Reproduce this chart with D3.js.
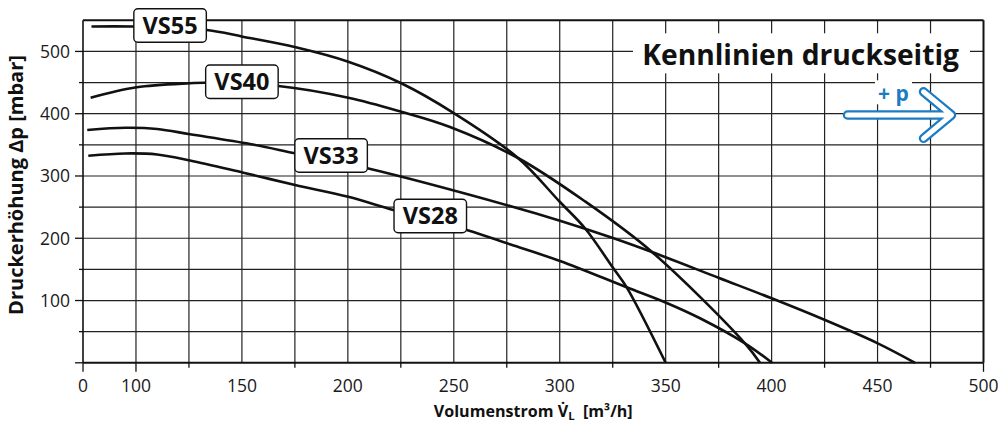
<!DOCTYPE html>
<html>
<head>
<meta charset="utf-8">
<script src="https://cdn.jsdelivr.net/npm/d3@7"></script>
<style>
  html, body { margin: 0; padding: 0; background: #fff; }
  svg { display: block; }
</style>
</head>
<body>
<div id="chart"></div>
<script>
// Kennlinien – Volumenstrom [m³/h] vs Druckerhöhung [mbar]
const vs55Flow = [79, 98.6, 133.5, 150.4, 175.4, 200.2, 225.2, 250, 280.3, 300.1, 311.9, 325.3, 331.6, 350];
const vs55Pres = [540, 540, 534.4, 523.7, 506.7, 483.5, 448.9, 401, 328.9, 258.2, 216, 151.8, 121.2, 0];

const vs40Flow = [78.6, 100.3, 125.5, 132.6, 167.2, 200.2, 225.2, 248.2, 280.3, 311, 343.4, 387.4, 394.5];
const vs40Pres = [425.7, 442.4, 448.9, 449.8, 444.5, 425.7, 403.2, 378.7, 328.9, 261.4, 178.4, 31.3, 0];

const vs33Flow = [77, 95, 110, 125.5, 153.8, 175.1, 209.2, 276.5, 300.1, 325.1, 343.5, 375.2, 400, 425.2, 450.1, 467.7];
const vs33Pres = [373.9, 377.4, 375.5, 367, 351.4, 336.4, 312.3, 251.8, 228.2, 200.4, 177.9, 136.2, 103.6, 68.7, 31.3, 0];

const vs28Flow = [77.5, 95, 110, 125.5, 150.7, 175.1, 200.2, 221.5, 256.1, 276.5, 300.1, 331.6, 350.2, 366.2, 387.4, 400.2];
const vs28Pres = [332.6, 336.2, 334.5, 325, 305.3, 285.5, 266.7, 245.4, 213.3, 190.3, 163.5, 121.2, 96.5, 71.5, 31.3, 0];

const seriesNames = ["VS55", "VS40", "VS33", "VS28"];
// where each name box sits (data units)
const labelFlow = [116.1, 150, 192.1, 238.9];
const labelPres = [541.7, 451.4, 332.9, 235.7];

// x axis starts at 75 but the first tick is printed as "0"
const xTickValues = [75, 100, 150, 200, 250, 300, 350, 400, 450, 500];
const xTickLabels = ["0", "100", "150", "200", "250", "300", "350", "400", "450", "500"];
const yTickValues = [100, 200, 300, 400, 500];

const W = 998, H = 421;
const margin = { top: 20.3, right: 14.5, bottom: 58.2, left: 83 };
const width = W - margin.left - margin.right;
const height = H - margin.top - margin.bottom;

const FONT = "'Open Sans', 'Noto Sans', sans-serif";

const svg = d3.select("#chart").append("svg")
  .attr("width", W).attr("height", H)
  .style("font-family", FONT);

svg.append("rect").attr("width", W).attr("height", H).attr("fill", "#fff");

const g = svg.append("g").attr("transform", `translate(${margin.left},${margin.top})`);

const x = d3.scaleLinear().domain([75, 500]).range([0, width]);
const y = d3.scaleLinear().domain([0, 550]).range([height, 0]);

// grid
const vGrid = d3.range(100, 500, 25);
g.append("g").selectAll("line").data(vGrid).enter().append("line")
  .attr("x1", d => x(d)).attr("x2", d => x(d))
  .attr("y1", 0).attr("y2", height)
  .attr("stroke", "#222").attr("stroke-width", 1.2);

const hGrid = d3.range(50, 550, 50);
g.append("g").selectAll("line").data(hGrid).enter().append("line")
  .attr("x1", 0).attr("x2", width)
  .attr("y1", d => y(d)).attr("y2", d => y(d))
  .attr("stroke", "#222").attr("stroke-width", 1.2);

// ticks outside the frame
const xMinor = d3.range(125, 500, 50);
g.append("g").selectAll("line").data([75, 100, 500]).enter().append("line")
  .attr("x1", d => x(d)).attr("x2", d => x(d))
  .attr("y1", height).attr("y2", height + 9)
  .attr("stroke", "#111").attr("stroke-width", 1.3);
g.append("g").selectAll("line").data(xMinor).enter().append("line")
  .attr("x1", d => x(d)).attr("x2", d => x(d))
  .attr("y1", height).attr("y2", height + 5)
  .attr("stroke", "#111").attr("stroke-width", 1.3);

g.append("g").selectAll("line").data([0].concat(yTickValues)).enter().append("line")
  .attr("x1", -8).attr("x2", 0)
  .attr("y1", d => y(d)).attr("y2", d => y(d))
  .attr("stroke", "#111").attr("stroke-width", 1.3);
g.append("g").selectAll("line").data(d3.range(50, 550, 100)).enter().append("line")
  .attr("x1", -4).attr("x2", 0)
  .attr("y1", d => y(d)).attr("y2", d => y(d))
  .attr("stroke", "#111").attr("stroke-width", 1.3);

// frame
g.append("line").attr("x1", 0).attr("x2", width).attr("y1", 0).attr("y2", 0)
  .attr("stroke", "#111").attr("stroke-width", 2);
g.append("line").attr("x1", width).attr("x2", width).attr("y1", 0).attr("y2", height)
  .attr("stroke", "#111").attr("stroke-width", 2);
g.append("line").attr("x1", 0).attr("x2", width).attr("y1", height).attr("y2", height)
  .attr("stroke", "#111").attr("stroke-width", 2);
g.append("line").attr("x1", 0).attr("x2", 0).attr("y1", 0).attr("y2", height)
  .attr("stroke", "#111").attr("stroke-width", 1.6);

// tick labels
g.append("g").selectAll("text").data(xTickValues).enter().append("text")
  .attr("x", d => x(d)).attr("y", height + 29.5)
  .attr("text-anchor", "middle")
  .attr("font-size", "17.5px").attr("fill", "#1a1a1a")
  .text((d, i) => xTickLabels[i]);

g.append("g").selectAll("text").data(yTickValues).enter().append("text")
  .attr("x", -13).attr("y", d => y(d)).attr("dy", "0.36em")
  .attr("text-anchor", "end")
  .attr("font-size", "17.5px").attr("fill", "#1a1a1a")
  .text(d => d);

// title box
const titleG = g.append("g");
titleG.append("rect")
  .attr("x", 550).attr("y", 13).attr("width", 337).attr("height", 40)
  .attr("fill", "#fff");
const title = titleG.append("text")
  .attr("x", 876).attr("y", 45)
  .attr("text-anchor", "end")
  .attr("font-size", "29px").attr("font-weight", "bold").attr("fill", "#111")
  .text("Kennlinien druckseitig");
fitText(title, 317, 29);

// +p arrow
const arrowG = g.append("g");
arrowG.append("rect")
  .attr("x", 792).attr("y", 60).attr("width", 37).attr("height", 24)
  .attr("fill", "#fff");
arrowG.append("text")
  .attr("x", 810.5).attr("y", 81)
  .attr("text-anchor", "middle")
  .attr("font-size", "21px").attr("font-weight", "bold").attr("fill", "#1b7cc4")
  .attr("xml:space", "preserve")
  .text("+ p");
const arrowPath = "M764.5,94.7 L866,94.7 M840.5,71.5 L868.5,94.7 L840.5,118";
arrowG.append("path").attr("d", arrowPath)
  .attr("fill", "none").attr("stroke", "#1b7cc4").attr("stroke-width", 9.5)
  .attr("stroke-linecap", "round").attr("stroke-linejoin", "round");
arrowG.append("path").attr("d", arrowPath)
  .attr("fill", "none").attr("stroke", "#fff").attr("stroke-width", 5)
  .attr("stroke-linecap", "round").attr("stroke-linejoin", "round");

// curves
const curves = [
  { flow: vs55Flow, pres: vs55Pres },
  { flow: vs40Flow, pres: vs40Pres },
  { flow: vs33Flow, pres: vs33Pres },
  { flow: vs28Flow, pres: vs28Pres }
];

const line = d3.line()
  .x(d => x(d[0]))
  .y(d => y(d[1]))
  .curve(d3.curveCatmullRom.alpha(0.5));

g.append("g").selectAll("path").data(curves).enter().append("path")
  .attr("d", c => line(c.flow.map((f, i) => [f, c.pres[i]])))
  .attr("fill", "none")
  .attr("stroke", "#111")
  .attr("stroke-width", 2.6);

// name boxes
const boxW = 72.5, boxH = 33.5;
const labels = g.append("g").selectAll("g").data(seriesNames).enter().append("g")
  .attr("transform", (d, i) => `translate(${x(labelFlow[i])},${y(labelPres[i])})`);
labels.append("rect")
  .attr("x", -boxW / 2).attr("y", -boxH / 2)
  .attr("width", boxW).attr("height", boxH)
  .attr("rx", 4).attr("ry", 4)
  .attr("fill", "#fff").attr("stroke", "#111").attr("stroke-width", 1.4);
labels.append("text")
  .attr("text-anchor", "middle").attr("dy", "0.36em")
  .attr("font-size", "23.5px").attr("font-weight", "bold").attr("fill", "#111")
  .text(d => d);

// axis titles
const yTitle = svg.append("text")
  .attr("transform", `translate(23,185) rotate(-90)`)
  .attr("text-anchor", "middle")
  .attr("font-size", "15.5px").attr("font-weight", "bold").attr("fill", "#111")
  .text("Druckerhöhung Δp [mbar]");
fitText(yTitle, 260, 15.5);

const xTitle = svg.append("text")
  .attr("x", margin.left + width / 2).attr("y", 416.5)
  .attr("text-anchor", "middle")
  .attr("font-size", "15.5px").attr("font-weight", "bold").attr("fill", "#111");
xTitle.append("tspan").text("Volumenstrom V\u0307");
xTitle.append("tspan").attr("font-size", "11px").attr("dy", 3).text("L");
xTitle.append("tspan").attr("dy", -3).attr("xml:space", "preserve").text("  [m³/h]");
fitText(xTitle, 199, 15.5);

function fitText(sel, target, base) {
  const len = sel.node().getComputedTextLength();
  if (len > 0) {
    const k = target / len;
    sel.attr("font-size", (base * k) + "px");
    sel.selectAll("tspan").each(function () {
      const fs = d3.select(this).attr("font-size");
      if (fs) d3.select(this).attr("font-size", (parseFloat(fs) * k) + "px");
    });
  }
}
</script>
</body>
</html>
